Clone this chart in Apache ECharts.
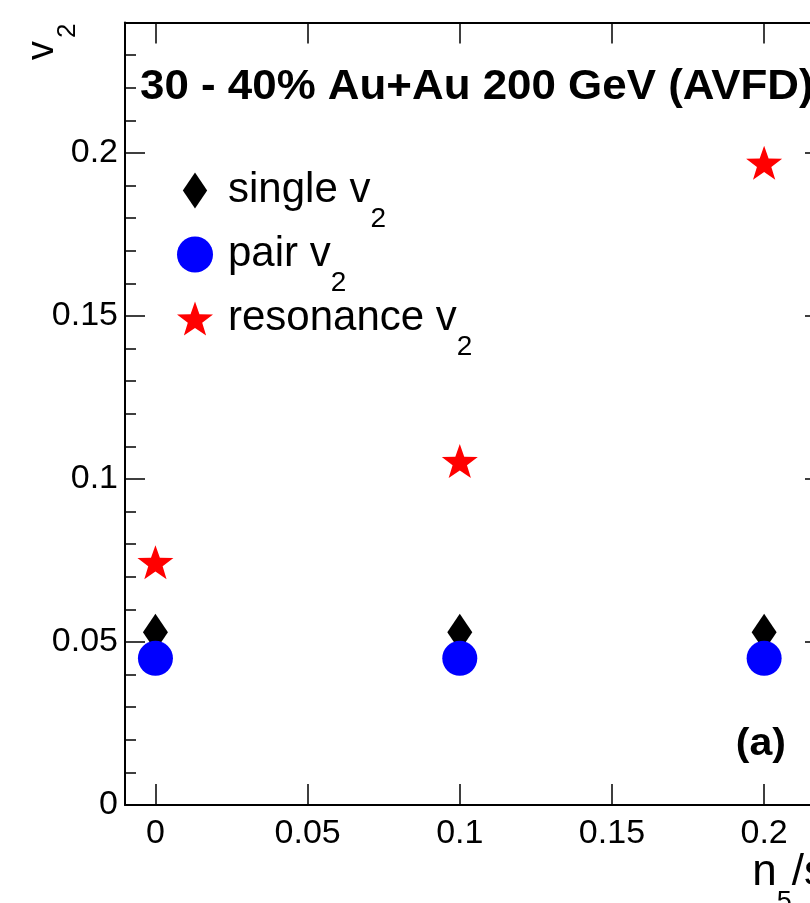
<!DOCTYPE html>
<html>
<head>
<meta charset="utf-8">
<script src="https://cdn.jsdelivr.net/npm/echarts@6/dist/echarts.min.js"></script>
<style>
html,body{margin:0;padding:0;background:#fff;}
#chart{width:810px;height:903px;}
</style>
</head>
<body>
<div id="chart"></div>
<script>
// ---- data ----
var nsX = [0, 0.1, 0.2];
var singleV2 = [0.053, 0.053, 0.053];
var pairV2 = [0.045, 0.045, 0.045];
var resonanceV2 = [0.0745, 0.1055, 0.197];
var xTickValues = [0, 0.05, 0.1, 0.15, 0.2];
var yTickValues = [0, 0.05, 0.1, 0.15, 0.2];
var seriesNames = ['single', 'pair', 'resonance'];
var titleText = '30 - 40% Au+Au 200 GeV (AVFD)';
var panelLabel = '(a)';

var FONT = '"Liberation Sans", Arial, Helvetica, sans-serif';
var STAR = 'path://M0,-50L11.76,-16.18L47.55,-15.45L19.02,6.18L29.39,40.45L0,20L-29.39,40.45L-19.02,6.18L-47.55,-15.45L-11.76,-16.18Z';
var DIAMOND_ICON = 'path://M12.5,0L25,18.5L12.5,37L0,18.5Z';

function pts(xs, ys) { return xs.map(function (x, i) { return [x, ys[i]]; }); }

var chart = echarts.init(document.getElementById('chart'), null, {renderer: 'canvas'});

var axisLine = {show: true, onZero: false, lineStyle: {color: '#000', width: 2}};
var noLine = {show: false, onZero: false};
var majorTickLen = 21, minorTickLen = 11;
var tickStyle = {color: '#000', width: 1.5};

var option = {
  backgroundColor: '#fff',
  animation: false,
  grid: {left: 125, top: 22.6, width: 700, height: 782.4, containLabel: false, outerBoundsMode: 'none'},
  xAxis: [
    {
      type: 'value', position: 'bottom', min: -0.01, max: 0.22, offset: 0,
      axisLine: axisLine,
      axisTick: {show: true, inside: true, length: majorTickLen, customValues: xTickValues, lineStyle: tickStyle},
      axisLabel: {show: true, customValues: xTickValues, color: '#000', fontSize: 34, fontFamily: FONT, margin: 12},
      splitLine: {show: false}
    },
    {
      type: 'value', position: 'top', min: -0.01, max: 0.22, offset: 0,
      axisLine: axisLine,
      axisTick: {show: true, inside: true, length: majorTickLen, customValues: xTickValues, lineStyle: tickStyle},
      axisLabel: {show: false},
      splitLine: {show: false}
    }
  ],
  yAxis: [
    {
      type: 'value', position: 'left', min: 0, max: 0.24, offset: 0,
      axisLine: axisLine,
      axisTick: {show: true, inside: true, length: majorTickLen - 1, customValues: yTickValues, lineStyle: tickStyle},
      axisLabel: {show: true, customValues: yTickValues, color: '#000', fontSize: 34, fontFamily: FONT, margin: 7},
      splitLine: {show: false}
    },
    {
      type: 'value', position: 'left', min: 0, max: 0.24, interval: 0.01, offset: 0,
      axisLine: noLine,
      axisTick: {show: true, inside: true, length: minorTickLen, lineStyle: tickStyle},
      axisLabel: {show: false},
      splitLine: {show: false}
    },
    {
      type: 'value', position: 'right', min: 0, max: 0.24, offset: 0,
      axisLine: axisLine,
      axisTick: {show: true, inside: true, length: majorTickLen - 1, customValues: yTickValues, lineStyle: tickStyle},
      axisLabel: {show: false},
      splitLine: {show: false}
    },
    {
      type: 'value', position: 'right', min: 0, max: 0.24, interval: 0.01, offset: 0,
      axisLine: noLine,
      axisTick: {show: true, inside: true, length: minorTickLen, lineStyle: tickStyle},
      axisLabel: {show: false},
      splitLine: {show: false}
    }
  ],
  legend: {
    orient: 'vertical', left: 177, top: 169.5, padding: 0,
    itemWidth: 36, itemHeight: 36, itemGap: 0,
    symbolKeepAspect: true,
    selectedMode: false,
    data: [
      {name: seriesNames[0], icon: DIAMOND_ICON},
      {name: seriesNames[1], icon: 'circle'},
      {name: seriesNames[2], icon: STAR}
    ],
    formatter: function (name) { return '{m|' + name + ' v}{s|2}'; },
    textStyle: {
      color: '#000', fontFamily: FONT,
      rich: {
        m: {fontSize: 42, lineHeight: 42, padding: [0, 0, 0, 10], verticalAlign: 'top', color: '#000', fontFamily: FONT},
        s: {fontSize: 28, lineHeight: 28, padding: [36, 0, 0, 0], verticalAlign: 'top', color: '#000', fontFamily: FONT}
      }
    }
  },
  graphic: [
    {
      type: 'text', x: 140, y: 87, z: 10, scaleX: 1.045,
      style: {text: titleText, font: 'bold 42px ' + FONT, fill: '#000', align: 'left', verticalAlign: 'middle'}
    },
    {
      type: 'text', x: 786, y: 745, z: 10, scaleX: 1.08,
      style: {text: panelLabel, font: 'bold 38px ' + FONT, fill: '#000', align: 'right', verticalAlign: 'middle'}
    },
    {
      type: 'text', x: 826, y: 851, z: 10,
      style: {
        text: '{m|n}{s|5}{m|/s}', align: 'right', verticalAlign: 'top', fill: '#000',
        rich: {
          m: {fontSize: 44, lineHeight: 44, verticalAlign: 'top', fontFamily: FONT, fill: '#000'},
          s: {fontSize: 27, lineHeight: 27, padding: [38, 0, 0, 0], verticalAlign: 'top', fontFamily: FONT, fill: '#000'}
        }
      }
    },
    {
      type: 'text', x: 24, y: 60, rotation: Math.PI / 2, z: 10,
      style: {
        text: '{m|v}{s|2}', align: 'left', verticalAlign: 'top', fill: '#000',
        rich: {
          m: {fontSize: 38, lineHeight: 38, verticalAlign: 'top', fontFamily: FONT, fill: '#000'},
          s: {fontSize: 26, lineHeight: 26, padding: [31, 0, 0, 3], verticalAlign: 'top', fontFamily: FONT, fill: '#000'}
        }
      }
    }
  ],
  series: [
    {
      name: seriesNames[0], type: 'scatter', xAxisIndex: 0, yAxisIndex: 0,
      symbol: 'diamond', symbolSize: [25, 37],
      itemStyle: {color: '#000', opacity: 1},
      data: pts(nsX, singleV2), z: 3
    },
    {
      name: seriesNames[1], type: 'scatter', xAxisIndex: 0, yAxisIndex: 0,
      symbol: 'circle', symbolSize: 35,
      itemStyle: {color: '#0000ff', opacity: 1},
      data: pts(nsX, pairV2), z: 4
    },
    {
      name: seriesNames[2], type: 'scatter', xAxisIndex: 0, yAxisIndex: 0,
      symbol: STAR, symbolSize: [36, 34],
      itemStyle: {color: '#ff0000', opacity: 1},
      data: pts(nsX, resonanceV2), z: 5
    }
  ]
};
chart.setOption(option);
</script>
</body>
</html>
